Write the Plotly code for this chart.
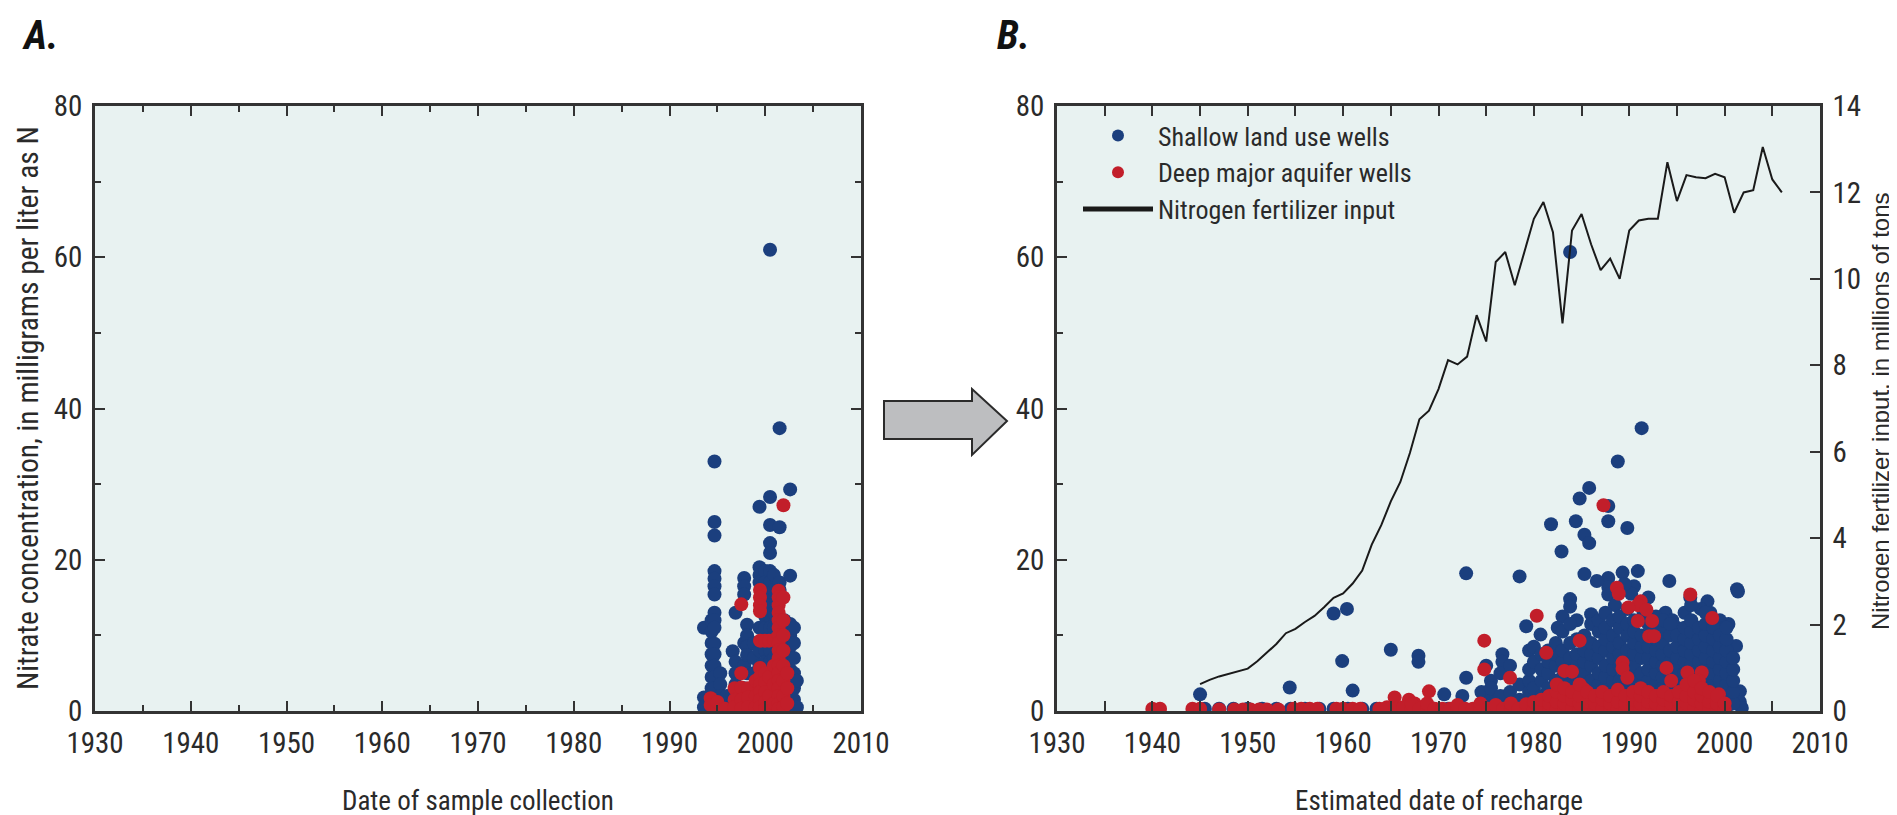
import plotly.graph_objects as go

# ---------------- DATA ----------------
# Panel A: date of sample collection vs nitrate (mg/L as N), columns of points
shallow_A_year = [1993.6, 1994.4, 1994.7, 1995.3, 1996.0, 1996.6, 1996.9, 1997.8, 1998.1, 1998.8,
                  1999.4, 2000.0, 2000.5, 2000.9, 2001.5, 2002.0, 2002.6, 2003.0, 2003.3]
shallow_A_no3 = [
    [11.0, 1.8, 0.5],
    [0.3, 1.5, 3.0, 4.5, 6.0, 7.5, 9.0, 10.5, 12.0],
    [33.0, 25.0, 23.2, 18.5, 17.5, 16.5, 15.4, 13.0, 12.0, 11.0, 8.9, 7.5, 6.0, 4.5, 3.0, 1.5, 0.3],
    [5.0, 3.5, 2.0, 0.5],
    [0.5, 2.0],
    [7.9, 1.0],
    [13.0, 6.5, 5.0, 3.5, 2.0, 0.5],
    [17.6, 16.5, 15.4, 9.0, 6.0, 3.0, 0.3],
    [11.4, 10.0, 8.5, 7.4, 5.0, 2.0, 0.5],
    [9.0, 7.0, 5.0, 3.0, 1.0],
    [27.0, 19.0, 18.0, 17.0, 11.0, 8.0, 6.0, 4.0, 2.0, 0.3],
    [18.5, 17.0, 15.5, 14.0, 12.5, 11.0, 9.5, 8.0, 6.5, 5.0, 3.5, 2.0, 0.5],
    [61.0, 28.3, 24.6, 22.2, 20.9, 18.5, 17.0, 15.5, 14.0, 12.5, 11.0, 9.5, 8.0, 6.5, 5.0, 3.5, 2.0, 0.5],
    [18.0, 16.0, 13.0, 11.0, 7.0, 4.0, 1.0],
    [37.4, 24.3, 17.0, 16.0],
    [12.0, 10.5, 9.0, 7.5, 6.0, 4.5, 3.0, 1.5, 0.3],
    [29.3, 17.9, 11.5, 10.0, 8.5, 7.0, 5.5, 4.0, 2.5, 1.0],
    [11.0, 9.0, 7.0, 5.0, 3.0, 1.5, 0.3],
    [4.0, 0.5],
]
deep_A_year = [1994.3, 1995.0, 1995.8, 1996.8, 1997.5, 1998.2, 1999.0, 1999.45, 2000.0, 2000.4,
               2000.9, 2001.4, 2001.9, 2002.3]
deep_A_no3 = [
    [1.7, 0.8],
    [0.3, 1.2],
    [0.3],
    [3.0, 1.5, 0.5],
    [14.1, 5.0, 3.1, 1.5, 0.3],
    [3.0, 1.8, 0.5],
    [4.0, 2.0, 0.5],
    [16.0, 15.0, 14.0, 13.2, 9.3, 5.7, 4.5, 3.5, 2.5, 1.5, 0.5],
    [9.3, 5.0, 3.8, 2.5, 1.2, 0.3],
    [9.3, 4.5, 2.0, 0.5],
    [9.4, 6.0, 3.5, 1.0],
    [15.9, 15.0, 14.0, 13.0, 12.0, 11.0, 10.0, 9.0, 8.0, 7.0, 6.0, 5.0, 4.0, 3.0, 2.0, 1.0, 0.3],
    [27.2, 15.0, 12.0, 10.0, 8.0, 6.0, 4.0, 2.0, 0.5],
    [5.0, 3.0, 1.0],
]

# Panel B: estimated date of recharge vs nitrate
shallow_B_iso_year = [1983.8, 1991.3, 1988.8, 1985.8, 1984.8, 1987.8, 1981.8, 1984.4, 1985.3, 1985.8,
                      1987.8, 1989.8, 1982.9, 1972.9, 1978.5, 1985.3, 1989.3, 1990.9, 1994.2, 2001.3,
                      2001.4, 1987.8, 1987.8, 1987.8, 1986.6, 1959.0, 1960.4, 1983.8, 1983.8, 1998.2,
                      1996.4, 2000.4, 1979.2, 1980.7, 1965.0, 1967.9, 1967.9, 1959.9, 1976.7, 1976.7,
                      1972.9, 1975.5, 1975.0, 1954.4, 1961.0, 1945.0, 1970.6, 1972.5, 2001.2, 2001.6,
                      2001.6, 2001.8, 1990.5, 1990.2, 1989.5, 1986.0, 1986.0, 1984.5, 1983.0, 1982.5,
                      1993.8, 1994.5, 1995.0, 1997.5, 1998.5, 1999.5, 2000.0, 1988.5, 1992.0, 1991.5]
shallow_B_iso_no3 = [60.7, 37.4, 33.0, 29.5, 28.1, 27.1, 24.7, 25.1, 23.3, 22.2,
                     25.1, 24.2, 21.1, 18.2, 17.8, 18.1, 18.3, 18.5, 17.2, 16.1,
                     15.8, 17.6, 16.4, 15.4, 17.2, 12.9, 13.5, 14.8, 13.8, 14.5,
                     15.0, 11.5, 11.2, 10.1, 8.1, 7.3, 6.5, 6.6, 7.5, 6.5,
                     4.4, 4.0, 6.0, 3.1, 2.7, 2.2, 2.2, 2.0, 8.6, 2.6,
                     1.2, 0.4, 16.5, 15.5, 16.8, 12.8, 11.5, 12.0, 12.5, 11.0,
                     13.0, 12.0, 11.0, 13.5, 13.0, 12.0, 11.0, 14.0, 15.0, 13.0]
shallow_B_col_year = [1945.5, 1947.0, 1948.5, 1950.0, 1951.5, 1953.0, 1954.5, 1956.0, 1957.5, 1959.0,
                      1960.5, 1962.0, 1963.5, 1965.0, 1966.5, 1968.0, 1969.5, 1971.0, 1972.5, 1974.0,
                      1974.5, 1975.5, 1976.5, 1977.5, 1978.5, 1979.5, 1980.0, 1980.8, 1981.5, 1982.3,
                      1983.0, 1983.8, 1984.5, 1985.3, 1986.0, 1986.8, 1987.5, 1988.3, 1989.0, 1989.8,
                      1990.5, 1991.3, 1992.0, 1992.8, 1993.5, 1994.3, 1995.0, 1995.8, 1996.5, 1997.3,
                      1998.0, 1998.8, 1999.5, 2000.2, 2000.9]
shallow_B_col_no3 = [
    [0.3], [0.3], [0.3], [0.3], [0.3], [0.3], [0.3], [0.3], [0.3], [0.3],
    [0.3], [0.3], [0.3], [0.3], [0.3], [0.3], [0.3], [0.3], [0.3], [0.3],
    [1.0, 2.5],
    [1.5, 3.0],
    [0.8, 2.0, 5.0],
    [1.0, 2.5, 6.0],
    [0.5, 1.5, 3.5],
    [1.0, 2.5, 4.0, 5.5, 8.0],
    [1.0, 3.0, 6.5, 8.5],
    [0.5, 2.0, 4.0, 5.5, 7.5],
    [1.0, 3.0, 5.0, 6.5, 8.0],
    [0.5, 2.0, 4.0, 6.0, 7.5, 9.0],
    [1.0, 2.5, 4.5, 6.5, 8.0, 10.5],
    [0.5, 2.0, 3.5, 5.5, 7.0, 9.0, 11.5],
    [1.0, 3.0, 4.5, 6.0, 7.5, 9.5],
    [0.5, 2.0, 3.5, 5.0, 6.5, 8.0, 10.0],
    [1.0, 2.5, 4.0, 6.0, 7.5, 9.0],
    [0.5, 2.0, 3.5, 5.0, 7.0, 8.5, 10.5, 12.0],
    [1.0, 3.0, 4.5, 6.0, 8.0, 9.5, 11.0, 13.0],
    [0.5, 2.0, 4.0, 5.5, 7.0, 8.5, 10.0, 12.0],
    [1.0, 2.5, 4.0, 6.0, 7.5, 9.0, 11.0, 12.5],
    [0.5, 2.0, 3.5, 5.0, 6.5, 8.0, 10.0, 11.5, 13.5],
    [1.0, 3.0, 4.5, 6.0, 7.5, 9.0, 10.5, 12.0],
    [0.5, 2.0, 3.5, 5.0, 7.0, 8.5, 10.0],
    [1.0, 2.5, 4.0, 5.5, 7.0, 8.5, 10.0, 11.5],
    [0.5, 2.0, 3.5, 5.0, 6.5, 8.0, 9.5, 11.0, 12.5],
    [1.0, 3.0, 4.5, 6.0, 7.5, 9.0, 10.5, 12.0],
    [0.5, 2.0, 3.5, 5.0, 6.5, 8.0, 10.0, 11.5],
    [1.0, 2.5, 4.0, 5.5, 7.0, 8.5, 10.0],
    [0.5, 2.0, 3.5, 5.0, 6.5, 8.0, 9.5, 11.0, 13.0],
    [1.0, 2.5, 4.0, 6.0, 7.5, 9.0, 10.5, 12.0, 14.0],
    [0.5, 2.0, 3.5, 5.0, 6.5, 8.0, 9.5, 11.0],
    [1.0, 2.5, 4.0, 5.5, 7.0, 8.5, 10.0, 11.5, 13.0],
    [0.5, 2.0, 3.5, 5.0, 6.5, 8.0, 9.5, 11.0],
    [1.0, 2.5, 4.0, 5.5, 7.0, 8.5, 10.0],
    [0.5, 2.0, 3.5, 5.0, 6.5, 8.0, 9.5, 11.0],
    [1.0, 2.5, 4.0, 5.5, 7.0],
]

deep_B_iso_year = [1987.3, 1988.7, 1988.9, 1996.4, 1980.3, 1998.7, 1991.2, 1990.9, 1989.9, 1991.8,
                   1990.9, 1992.4, 1992.1, 1992.6, 1974.8, 1984.8, 1981.3, 1989.3, 1989.3, 1974.8,
                   1983.2, 1984.0, 1993.9, 1996.1, 1997.6, 1997.3, 1977.5, 1989.8, 1994.4, 1969.0,
                   1985.2, 1999.4, 1965.4, 1966.9, 1967.5]
deep_B_iso_no3 = [27.2, 16.3, 15.5, 15.4, 12.6, 12.3, 14.5, 14.0, 13.7, 13.4,
                  11.9, 11.9, 9.9, 9.9, 9.3, 9.3, 7.7, 6.4, 5.6, 5.5,
                  5.3, 5.2, 5.7, 5.1, 5.1, 4.0, 4.4, 4.4, 4.0, 2.6,
                  2.9, 2.2, 1.8, 1.5, 1.0]
deep_B_col_year = [1940.0, 1940.8, 1944.2, 1945.0, 1947.0, 1948.6, 1949.5, 1950.3, 1951.2, 1952.0,
                   1953.2, 1954.8, 1955.6, 1956.5, 1957.3, 1959.3, 1960.0, 1961.0, 1961.8, 1963.8,
                   1964.6, 1965.5, 1966.3, 1967.2, 1968.0, 1968.8, 1969.6, 1970.4, 1971.2, 1972.0,
                   1972.8, 1973.6, 1974.4, 1975.2, 1976.0, 1976.8, 1977.6, 1978.4, 1979.2, 1980.0,
                   1980.8, 1981.6, 1982.4, 1983.2, 1984.0, 1984.8, 1985.6, 1986.4, 1987.2, 1988.0,
                   1988.8, 1989.6, 1990.4, 1991.2, 1992.0, 1992.8, 1993.6, 1994.4, 1995.2, 1996.0,
                   1996.8, 1997.6, 1998.4, 1999.2, 2000.0]
deep_B_col_no3 = [
    [0.3], [0.3], [0.3], [0.3], [0.2], [0.2], [0.2], [0.2], [0.2], [0.2],
    [0.2], [0.3], [0.3], [0.3], [0.3], [0.3], [0.3], [0.3], [0.3], [0.3],
    [0.5], [0.3], [0.5], [0.3, 0.9], [0.3], [0.3, 1.0], [0.3], [0.3], [0.3], [0.3, 0.8],
    [0.3], [0.3], [0.3, 1.0], [0.3], [0.3, 0.8], [0.3], [0.3, 1.0], [0.3], [0.3, 0.9], [0.3, 1.2],
    [0.3, 1.5], [0.3, 1.0, 2.0], [0.3, 1.2, 2.5, 3.5], [0.3, 1.0, 2.0, 3.0], [0.3, 1.5, 2.5],
    [0.3, 1.0, 2.0, 3.5], [0.3, 1.2, 2.5], [0.3, 1.0, 2.0], [0.3, 1.5, 2.5], [0.3, 1.0, 2.0],
    [0.3, 1.2, 2.8], [0.3, 1.0, 2.0], [0.3, 1.5, 2.5], [0.3, 1.0, 2.0, 3.0], [0.3, 1.2, 2.5],
    [0.3, 1.0, 2.0], [0.3, 1.5, 2.5], [0.3, 1.0, 2.0], [0.3, 1.2, 2.5], [0.3, 1.0, 2.0, 3.5],
    [0.3, 1.5, 2.5, 4.0], [0.3, 1.0, 2.0, 3.0], [0.3, 1.2, 2.5], [0.3, 1.0, 2.0], [0.3, 1.0],
]

# Nitrogen fertilizer input, millions of tons
fert_year = list(range(1945, 2007))
fert_mt = [0.62, 0.72, 0.80, 0.86, 0.92, 0.98, 1.15, 1.35, 1.55, 1.80,
           1.90, 2.06, 2.20, 2.40, 2.62, 2.72, 2.95, 3.25, 3.85, 4.30,
           4.85, 5.30, 5.97, 6.75, 6.95, 7.45, 8.12, 8.02, 8.20, 9.16,
           8.55, 10.39, 10.62, 9.85, 10.65, 11.39, 11.78, 11.08, 8.97, 11.12,
           11.50, 10.80, 10.20, 10.47, 10.00, 11.12, 11.35, 11.39, 11.39, 12.70,
           11.80, 12.40, 12.35, 12.33, 12.43, 12.35, 11.53, 12.00, 12.05, 13.05,
           12.30, 12.00]

x_ticks = [1930, 1940, 1950, 1960, 1970, 1980, 1990, 2000, 2010]
y_ticks = [0, 20, 40, 60, 80]
y2_ticks = [0, 2, 4, 6, 8, 10, 12, 14]


def expand(years, cols):
    xs, ys = [], []
    for yr, vals in zip(years, cols):
        for v in vals:
            xs.append(yr)
            ys.append(v)
    return xs, ys


sAx, sAy = expand(shallow_A_year, shallow_A_no3)
dAx, dAy = expand(deep_A_year, deep_A_no3)
sBx, sBy = expand(shallow_B_col_year, shallow_B_col_no3)
sBx = shallow_B_iso_year + sBx
sBy = shallow_B_iso_no3 + sBy
dBx, dBy = expand(deep_B_col_year, deep_B_col_no3)
dBx = deep_B_iso_year + dBx
dBy = deep_B_iso_no3 + dBy

# ---------------- STYLE ----------------
W, H = 1897, 815
BLUE = "#1B3F7E"
RED = "#C21E2A"
BG = "#E8F2F1"
FRAME = "#333333"
TXT = "#2a2a2a"
NARROW = "Roboto Condensed, Liberation Sans, sans-serif"
REG = "Liberation Sans, Arial, sans-serif"
MS = 14


def px(x):
    return x / W


def py(y):
    return 1 - y / H


fig = go.Figure()

fig.add_trace(go.Scatter(x=sAx, y=sAy, mode="markers", xaxis="x", yaxis="y",
                         marker=dict(color=BLUE, size=MS), showlegend=False))
fig.add_trace(go.Scatter(x=dAx, y=dAy, mode="markers", xaxis="x", yaxis="y",
                         marker=dict(color=RED, size=MS), showlegend=False))

fig.add_trace(go.Scatter(x=sBx, y=sBy, mode="markers", xaxis="x2", yaxis="y2",
                         name="Shallow land use wells", marker=dict(color=BLUE, size=MS)))
fig.add_trace(go.Scatter(x=dBx, y=dBy, mode="markers", xaxis="x2", yaxis="y2",
                         name="Deep major aquifer wells", marker=dict(color=RED, size=MS)))
fig.add_trace(go.Scatter(x=fert_year, y=fert_mt, mode="lines", xaxis="x2", yaxis="y3",
                         name="Nitrogen fertilizer input", line=dict(color="#1a1a1a", width=2)))

xdomA = [px(87), px(853)]
xdomB = [px(1049), px(1812)]
ydom = [py(703), py(98)]

tickfont = dict(family=NARROW, size=29, color=TXT)

xcommon = dict(range=[1930, 2010], tickmode="array", tickvals=x_ticks, ticks="inside",
               ticklen=10, tickwidth=2, tickcolor=FRAME, showline=True, linecolor=FRAME,
               linewidth=2.5, mirror="allticks", showgrid=False, zeroline=False,
               tickfont=tickfont, automargin=False, ticklabelstandoff=4,
               minor=dict(dtick=5, tick0=1930, ticks="inside", ticklen=6, tickwidth=2,
                          tickcolor=FRAME, showgrid=False))
ycommon = dict(range=[0, 80], tickmode="array", tickvals=y_ticks, ticks="inside",
               ticklen=10, tickwidth=2, tickcolor=FRAME, showline=True, linecolor=FRAME,
               linewidth=2.5, showgrid=False, zeroline=False, tickfont=tickfont,
               automargin=False, ticklabelstandoff=4,
               minor=dict(dtick=10, tick0=0, ticks="inside", ticklen=6, tickwidth=2,
                          tickcolor=FRAME, showgrid=False))

fig.update_layout(
    width=W, height=H, autosize=False,
    margin=dict(l=0, r=0, t=0, b=0, pad=0),
    paper_bgcolor="white", plot_bgcolor=BG,
    template=None,
    xaxis=dict(domain=xdomA, anchor="y", **xcommon),
    yaxis=dict(domain=ydom, anchor="x", mirror="allticks", **ycommon),
    xaxis2=dict(domain=xdomB, anchor="y2", **xcommon),
    yaxis2=dict(domain=ydom, anchor="x2", mirror=False, **ycommon),
    yaxis3=dict(domain=ydom, anchor="x2", overlaying="y2", side="right", range=[0, 14],
                tickmode="array", tickvals=y2_ticks, ticks="inside", ticklen=10, tickwidth=2,
                tickcolor=FRAME, showline=True, linecolor=FRAME, linewidth=2.5,
                showgrid=False, zeroline=False, tickfont=tickfont, automargin=False,
                ticklabelstandoff=4),
    showlegend=True,
    legend=dict(x=px(1070), y=py(104), xanchor="left", yanchor="top",
                bgcolor="rgba(0,0,0,0)", borderwidth=0, itemwidth=70,
                font=dict(family=NARROW, size=26, color=TXT),
                itemsizing="constant", tracegroupgap=0),
)

# Arrow between panels
arrow = [(876, 393), (964, 393), (964, 381), (999, 413), (964, 447), (964, 431), (876, 431)]
path = "M " + " L ".join(f"{px(x):.5f},{py(y):.5f}" for x, y in arrow) + " Z"
fig.add_shape(type="path", path=path, xref="paper", yref="paper",
              fillcolor="#BDBEC0", line=dict(color="#2b2b2b", width=2))

ann = [
    dict(text="<b><i>A.</i></b>", x=px(12), y=py(2), xanchor="left", yanchor="top",
         font=dict(family=NARROW, size=40, color="#111")),
    dict(text="<b><i>B.</i></b>", x=px(987), y=py(2), xanchor="left", yanchor="top",
         font=dict(family=NARROW, size=40, color="#111")),
    dict(text="Date of sample collection", x=px(470), y=py(793), xanchor="center",
         yanchor="middle", font=dict(family=NARROW, size=27, color=TXT)),
    dict(text="Estimated date of recharge", x=px(1430.5), y=py(793), xanchor="center",
         yanchor="middle", font=dict(family=NARROW, size=27, color=TXT)),
    dict(text="Nitrate concentration, in milligrams per liter as N", x=px(20), y=py(400),
         textangle=-90, xanchor="center", yanchor="middle",
         font=dict(family=NARROW, size=29.5, color=TXT)),
    dict(text="Nitrogen fertilizer input, in millions of tons", x=px(1872), y=py(403),
         textangle=-90, xanchor="center", yanchor="middle",
         font=dict(family=REG, size=24, color=TXT)),
]
for a in ann:
    fig.add_annotation(xref="paper", yref="paper", showarrow=False, **a)

fig.write_html("out.html")
